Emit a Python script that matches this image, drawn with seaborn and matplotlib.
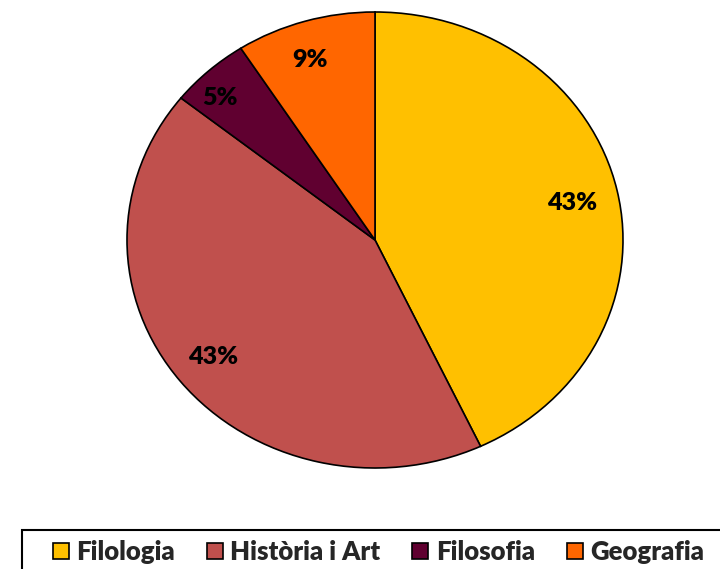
import numpy as np
import seaborn as sns
import matplotlib.pyplot as plt
from matplotlib.patches import Rectangle
from matplotlib.lines import Line2D

labels = ['Filologia', 'Història i Art', 'Filosofia', 'Geografia']
shares = [43.0, 42.7, 5.2, 9.1]
pct_text = ['43%', '43%', '5%', '9%']
colors = ['#FFC000', '#C0504D', '#600030', '#FF6600']

sns.set_theme(style='white')
plt.rcParams['font.family'] = ['Lato', 'DejaVu Sans']

fig = plt.figure(figsize=(7.2, 5.69), dpi=100)
# pie is slightly wider than tall in the reference
ax = fig.add_axes([(375 - 248) / 720, (569 - 468) / 569, 496 / 720, 456 / 569])

wedges, texts = ax.pie(shares, colors=colors, startangle=90, counterclock=False,
                       wedgeprops=dict(edgecolor='black', linewidth=1.2))
ax.set_aspect('auto')
ax.set_xlim(-1, 1)
ax.set_ylim(-1, 1)
ax.axis('off')

# label distance from centre and small angular nudge (deg)
dists = [0.81, 0.83, 0.88, 0.83]
nudge = [-1, 0, 3, 2]
start = 90.0
total = sum(shares)
for v, t, d, n in zip(shares, pct_text, dists, nudge):
    ang = np.deg2rad(start - 360 * v / total / 2 + n)
    start -= 360 * v / total
    ax.text(d * np.cos(ang), d * np.sin(ang), t, ha='center', va='center',
            fontsize=18, fontweight='heavy', color='black')

handles = [Line2D([], [], marker='s', linestyle='', markersize=12,
                  markerfacecolor=c, markeredgecolor='black', markeredgewidth=1.2)
           for c in colors]
fig.legend(handles, labels, loc='center left', bbox_to_anchor=(52 / 720, 1 - 552 / 569),
           ncol=4, frameon=False, handlelength=0.7, handletextpad=0.25,
           columnspacing=1.2, borderpad=0, borderaxespad=0,
           prop=dict(size=18.5, weight='heavy'))
fig.patches.append(Rectangle((22 / 720, -0.05), 1.0, (569 - 530) / 569 + 0.05,
                             transform=fig.transFigure, fill=False,
                             edgecolor='black', linewidth=1.5))

plt.savefig('out.png', dpi=100)
